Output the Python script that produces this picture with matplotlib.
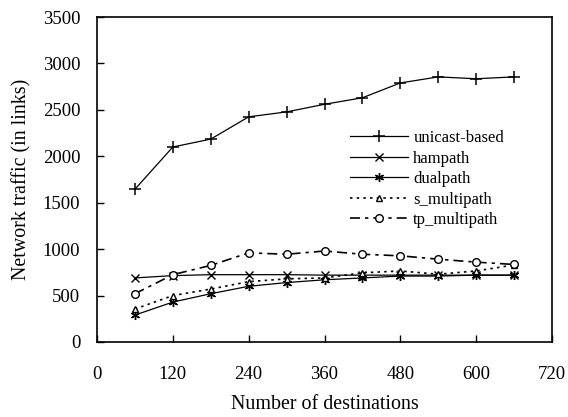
import matplotlib
matplotlib.use("Agg")
import matplotlib.pyplot as plt

# ---- data ----
destinations = [60, 120, 180, 240, 300, 360, 420, 480, 540, 600, 660]
unicast_based = [1645, 2100, 2185, 2425, 2478, 2560, 2630, 2790, 2855, 2835, 2855]
hampath = [690, 715, 725, 725, 725, 720, 720, 720, 720, 720, 720]
dualpath = [290, 430, 520, 600, 640, 670, 690, 710, 710, 720, 720]
s_multipath = [355, 500, 570, 650, 680, 690, 745, 765, 730, 765, 830]
tp_multipath = [520, 725, 825, 960, 945, 980, 945, 928, 892, 860, 835]

x_ticks = [0, 120, 240, 360, 480, 600, 720]
y_ticks = [0, 500, 1000, 1500, 2000, 2500, 3000, 3500]

plt.rcParams['font.family'] = ['Liberation Serif', 'DejaVu Serif']

fig = plt.figure(figsize=(5.68, 4.17), dpi=100)
ax = fig.add_axes([97/568, 75/417, 455/568, 325/417])

lw = 0.9
ax.plot(destinations, unicast_based, color='black', lw=lw, marker='+', ms=8,
        mew=1.1, label='unicast-based')
ax.plot(destinations, hampath, color='black', lw=lw, marker='x', ms=5.5,
        mew=1.0, label='hampath')
ax.plot(destinations, dualpath, color='black', lw=lw, marker=(6, 2, 0), ms=6.5,
        mew=1.0, label='dualpath')
ax.plot(destinations, s_multipath, color='black', lw=1.2, ls=(0, (1.5, 2.5)),
        marker='^', ms=5, mfc='white', mew=1.0, label='s_multipath')
ax.plot(destinations, tp_multipath, color='black', lw=1.2, ls=(0, (6, 3, 2, 3)),
        marker='o', ms=5.5, mfc='white', mew=1.0, label='tp_multipath')

ax.set_xlim(0, 720)
ax.set_ylim(0, 3500)
ax.set_xticks(x_ticks)
ax.set_yticks(y_ticks)
ax.tick_params(direction='in', length=5, width=1, labelsize=13.5,
               top=False, right=False)
ax.tick_params(axis='x', pad=17)
ax.tick_params(axis='y', pad=12)
for s in ax.spines.values():
    s.set_linewidth(1.2)

ax.set_xlabel('Number of destinations', fontsize=14.4, labelpad=9)
ax.set_ylabel('Network traffic (in links)', fontsize=14.4, labelpad=8)

leg = ax.legend(loc='upper left', bbox_to_anchor=(0.556, 0.652), frameon=False,
                fontsize=12, handlelength=3.5, handletextpad=0.3,
                labelspacing=0.27, borderpad=0, borderaxespad=0, numpoints=1)

fig.savefig('out.png', dpi=100)
